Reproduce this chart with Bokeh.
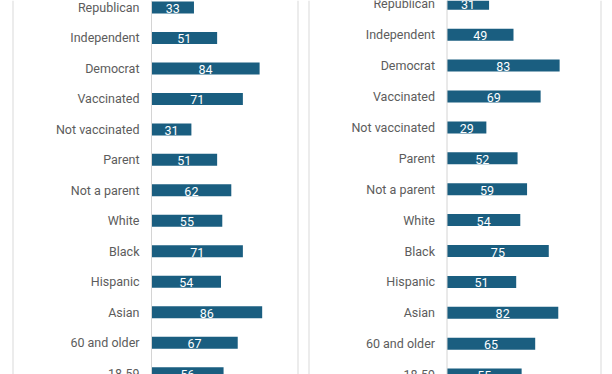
from bokeh.plotting import figure
from bokeh.models import Range1d, Span, ColumnDataSource
from bokeh.layouts import row
from bokeh.embed import file_html
from bokeh.resources import INLINE
from bokeh.core.properties import value

# ---- data ----
categories = ["Republican", "Independent", "Democrat", "Vaccinated", "Not vaccinated",
              "Parent", "Not a parent", "White", "Black", "Hispanic", "Asian",
              "60 and older", "18-59"]
left_values = [33, 51, 84, 71, 31, 51, 62, 55, 71, 54, 86, 67, 56]
right_values = [31, 49, 83, 69, 29, 52, 59, 54, 75, 51, 82, 65, 55]

# ---- style ----
BAR_COLOR = "#1a5e80"
LABEL_COLOR = "#5c5c5c"
BORDER_COLOR = "#d9d9d9"
BASE_COLOR = "#d4d4d4"
FONT = "Roboto"
HEIGHT = 374


def panel(vals, width, zero_px, px_per_unit, top_px, row_px, border_px, bar_px=12):
    x_start = -zero_px / px_per_unit
    x_end = x_start + width / px_per_unit
    y_top = -top_px / row_px
    y_bottom = y_top + HEIGHT / row_px
    p = figure(width=width, height=HEIGHT,
               x_range=Range1d(x_start, x_end),
               y_range=Range1d(y_bottom, y_top),
               output_backend="svg", toolbar_location=None, min_border=0)
    p.axis.visible = False
    p.grid.visible = False
    p.outline_line_color = None
    p.background_fill_color = "white"
    p.border_fill_color = "white"

    idx = list(range(len(categories)))
    src = ColumnDataSource(dict(
        y=idx, v=vals, half=[v / 2 for v in vals], cat=categories,
        lab=[str(v) for v in vals]))

    for bx in border_px:
        p.add_layout(Span(location=x_start + bx / px_per_unit, dimension="height",
                          line_color=BORDER_COLOR, line_width=1))
    p.add_layout(Span(location=0, dimension="height", line_color=BASE_COLOR, line_width=1))

    p.hbar(y="y", left=0, right="v", height=bar_px / row_px, source=src,
           fill_color=BAR_COLOR, line_color=None)
    p.text(x=0, y="y", text="cat", source=src, x_offset=-12,
           text_align="right", text_baseline="middle",
           text_font=value(FONT), text_font_size="12.5px", text_color=LABEL_COLOR)
    p.text(x="half", y="y", text="lab", source=src, y_offset=1,
           text_align="center", text_baseline="middle",
           text_font=value(FONT), text_font_size="12.5px", text_color="white")
    return p


p1 = panel(left_values, width=302, zero_px=151, px_per_unit=1.287,
           top_px=7, row_px=30.47, border_px=[12.5, 297.5])
p2 = panel(right_values, width=310, zero_px=144.5, px_per_unit=1.357,
           top_px=3.3, row_px=30.9, border_px=[6.5, 298.5])

layout = row(p1, p2)

open("out.html", "w").write(file_html(layout, INLINE))
